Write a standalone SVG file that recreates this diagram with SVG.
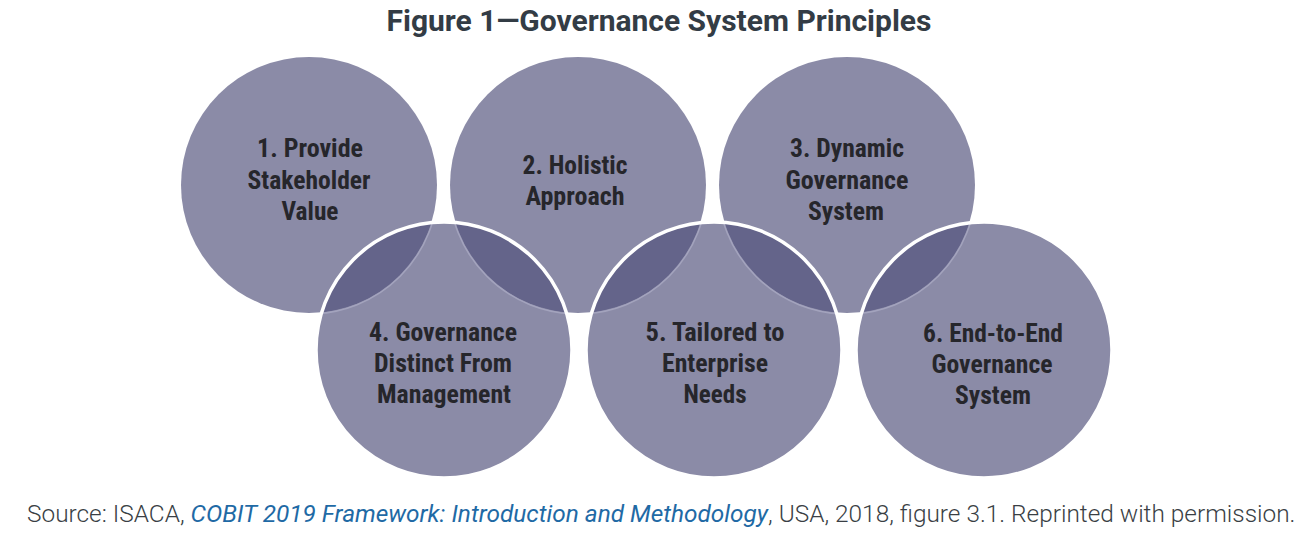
<svg xmlns="http://www.w3.org/2000/svg" width="1310" height="534" viewBox="0 0 1310 534">
<defs>
<style>
.c{fill:#8b8ba7}
.lens{fill:#64648a}
.edge{fill:none;stroke:#a3a3bd;stroke-width:1.5}
.ring{fill:none;stroke:#ffffff;stroke-width:3.5}
.t{font-family:"Roboto Condensed","Liberation Sans Narrow","DejaVu Sans Condensed","Liberation Sans",sans-serif;font-weight:700;font-size:25px;fill:#26262b;text-anchor:middle}
.title{font-family:Roboto,"Liberation Sans",sans-serif;font-weight:700;font-size:30px;fill:#333c45;text-anchor:middle}
.src{font-family:Roboto,"Liberation Sans",sans-serif;font-weight:300;font-size:24.4px;fill:#3a3f45}
.src .it{font-style:italic;fill:#1f6aa5;font-weight:400}
</style>
<clipPath id="k4"><circle cx="444" cy="350" r="128"/></clipPath>
<clipPath id="k5"><circle cx="714" cy="350" r="128"/></clipPath>
<clipPath id="k6"><circle cx="984" cy="350" r="128"/></clipPath>
</defs>
<rect width="1310" height="534" fill="#ffffff"/>
<text class="title" x="659" y="31">Figure 1—Governance System Principles</text>

<g id="n1"><circle class="c" cx="309" cy="185" r="128"/>
<text class="t" x="310" y="157" textLength="106" lengthAdjust="spacingAndGlyphs">1. Provide</text><text class="t" x="309" y="189" textLength="123" lengthAdjust="spacingAndGlyphs">Stakeholder</text><text class="t" x="310" y="220" textLength="57" lengthAdjust="spacingAndGlyphs">Value</text></g>
<g id="n2"><circle class="c" cx="578" cy="185" r="128"/>
<text class="t" x="575" y="174" textLength="105" lengthAdjust="spacingAndGlyphs">2. Holistic</text><text class="t" x="575" y="205" textLength="99" lengthAdjust="spacingAndGlyphs">Approach</text></g>
<g id="n3"><circle class="c" cx="847" cy="185" r="128"/>
<text class="t" x="847" y="157" textLength="114" lengthAdjust="spacingAndGlyphs">3. Dynamic</text><text class="t" x="847" y="189" textLength="123" lengthAdjust="spacingAndGlyphs">Governance</text><text class="t" x="846" y="220" textLength="76" lengthAdjust="spacingAndGlyphs">System</text></g>

<g id="n4"><circle class="c" cx="444" cy="350" r="128"/>
<text class="t" x="443" y="341" textLength="148" lengthAdjust="spacingAndGlyphs">4. Governance</text><text class="t" x="443" y="372" textLength="138" lengthAdjust="spacingAndGlyphs">Distinct From</text><text class="t" x="444" y="403" textLength="134" lengthAdjust="spacingAndGlyphs">Management</text></g>
<g id="n5"><circle class="c" cx="714" cy="350" r="128"/>
<text class="t" x="715" y="341" textLength="139" lengthAdjust="spacingAndGlyphs">5. Tailored to</text><text class="t" x="715" y="372" textLength="106" lengthAdjust="spacingAndGlyphs">Enterprise</text><text class="t" x="715" y="403" textLength="63" lengthAdjust="spacingAndGlyphs">Needs</text></g>
<g id="n6"><circle class="c" cx="984" cy="350" r="128"/>
<text class="t" x="993" y="342" textLength="140" lengthAdjust="spacingAndGlyphs">6. End-to-End</text><text class="t" x="992" y="373" textLength="121" lengthAdjust="spacingAndGlyphs">Governance</text><text class="t" x="993" y="404" textLength="76" lengthAdjust="spacingAndGlyphs">System</text></g>

<g id="overlaps">
<g clip-path="url(#k4)"><circle class="lens" cx="309" cy="185" r="128"/><circle class="lens" cx="578" cy="185" r="128"/><circle class="edge" cx="309" cy="185" r="129"/><circle class="edge" cx="578" cy="185" r="129"/></g>
<g clip-path="url(#k5)"><circle class="lens" cx="578" cy="185" r="128"/><circle class="lens" cx="847" cy="185" r="128"/><circle class="edge" cx="578" cy="185" r="129"/><circle class="edge" cx="847" cy="185" r="129"/></g>
<g clip-path="url(#k6)"><circle class="lens" cx="847" cy="185" r="128"/><circle class="edge" cx="847" cy="185" r="129"/></g>
<circle class="ring" cx="444" cy="350" r="128"/>
<circle class="ring" cx="714" cy="350" r="128"/>
<circle class="ring" cx="984" cy="350" r="128"/>
</g>

<text class="src" x="27" y="522">Source: ISACA, <tspan class="it">COBIT 2019 Framework: Introduction and Methodology</tspan>, USA, 2018, figure 3.1. Reprinted with permission.</text>
</svg>
